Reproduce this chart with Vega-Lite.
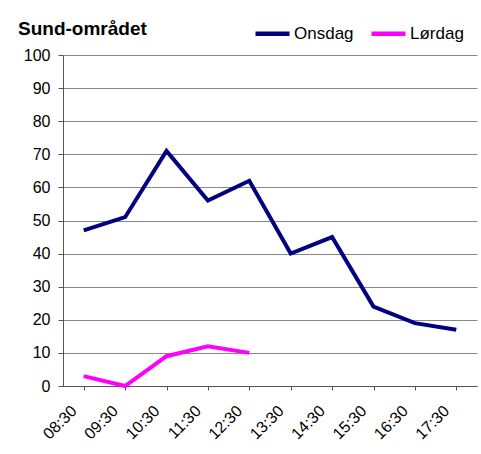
{
  "$schema": "https://vega.github.io/schema/vega-lite/v6.json",
  "width": 414,
  "height": 331,
  "autosize": {"type": "none"},
  "padding": {"left": 63, "top": 55, "right": 4, "bottom": 68},
  "background": "white",
  "title": {
    "text": "Sund-området",
    "anchor": "start",
    "frame": "group",
    "dx": -45,
    "dy": 25,
    "offset": 0,
    "font": "Liberation Sans",
    "fontSize": 19,
    "fontWeight": "bold",
    "color": "black"
  },
  "data": {
    "values": [
      {"tid": "08:30", "dag": "Onsdag", "antal": 47},
      {"tid": "09:30", "dag": "Onsdag", "antal": 51},
      {"tid": "10:30", "dag": "Onsdag", "antal": 71},
      {"tid": "11:30", "dag": "Onsdag", "antal": 56},
      {"tid": "12:30", "dag": "Onsdag", "antal": 62},
      {"tid": "13:30", "dag": "Onsdag", "antal": 40},
      {"tid": "14:30", "dag": "Onsdag", "antal": 45},
      {"tid": "15:30", "dag": "Onsdag", "antal": 24},
      {"tid": "16:30", "dag": "Onsdag", "antal": 19},
      {"tid": "17:30", "dag": "Onsdag", "antal": 17},
      {"tid": "08:30", "dag": "Lørdag", "antal": 3},
      {"tid": "09:30", "dag": "Lørdag", "antal": 0},
      {"tid": "10:30", "dag": "Lørdag", "antal": 9},
      {"tid": "11:30", "dag": "Lørdag", "antal": 12},
      {"tid": "12:30", "dag": "Lørdag", "antal": 10}
    ]
  },
  "mark": {"type": "line", "strokeWidth": 4, "strokeJoin": "miter"},
  "encoding": {
    "x": {
      "field": "tid",
      "type": "ordinal",
      "sort": null,
      "scale": {"paddingInner": 0, "paddingOuter": 0},
      "axis": {
        "title": null,
        "labelAngle": -45,
        "labelAlign": "right",
        "labelBaseline": "middle",
        "labelFont": "Liberation Sans",
        "labelFontSize": 16,
        "labelColor": "black",
        "labelPadding": 18,
        "labelOffset": -10,
        "bandPosition": 0,
        "tickColor": "#555",
        "tickSize": 4,
        "domainColor": "#555",
        "grid": false
      }
    },
    "y": {
      "field": "antal",
      "type": "quantitative",
      "scale": {"domain": [0, 100], "nice": false},
      "axis": {
        "title": null,
        "values": [0, 10, 20, 30, 40, 50, 60, 70, 80, 90, 100],
        "labelFont": "Liberation Sans",
        "labelFontSize": 16,
        "labelColor": "black",
        "labelPadding": 8,
        "tickColor": "#555",
        "tickSize": 5,
        "domainColor": "#555",
        "grid": true,
        "gridColor": "#888",
        "gridOpacity": 1
      }
    },
    "color": {
      "field": "dag",
      "type": "nominal",
      "sort": ["Onsdag", "Lørdag"],
      "scale": {"domain": ["Onsdag", "Lørdag"], "range": ["#000080", "#ff00ff"]},
      "legend": {
        "title": null,
        "orient": "none",
        "legendX": 190,
        "legendY": -41,
        "padding": 0,
        "direction": "horizontal",
        "symbolType": "stroke",
        "symbolStrokeWidth": 4.5,
        "symbolSize": 1156,
        "labelFont": "Liberation Sans",
        "labelFontSize": 17,
        "labelColor": "black",
        "labelOffset": 2,
        "columnPadding": 8
      }
    }
  },
  "config": {"view": {"stroke": null}}
}
